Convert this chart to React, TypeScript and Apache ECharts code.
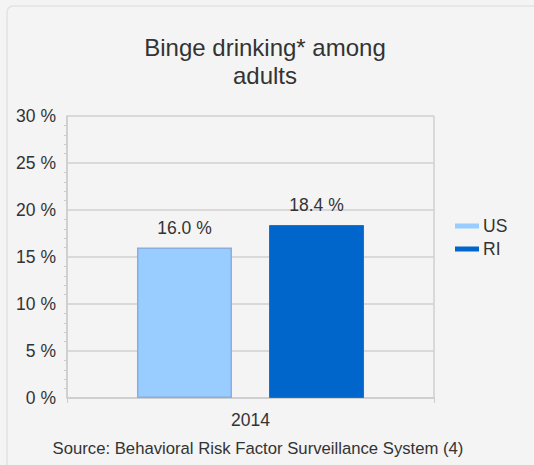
import React, { useEffect, useRef } from "react";
import * as echarts from "echarts";

const categories = ["2014"];
const seriesNames = ["US", "RI"];
const usValues = [16.0];
const riValues = [18.4];
const yTicks = [0, 5, 10, 15, 20, 25, 30];

export default function App() {
  const ref = useRef<HTMLDivElement>(null);
  useEffect(() => {
    const chart = echarts.init(ref.current!, null, { renderer: "svg" });
    const font = "Liberation Sans, Arial, sans-serif";
    const fs = 17.5;
    chart.setOption({
      animation: false,
      backgroundColor: "#f4f4f4",
      textStyle: { fontFamily: font },
      graphic: [
        {
          type: "rect",
          shape: { x: 7, y: 6, width: 600, height: 600, r: 6 },
          style: { fill: "#f4f4f4", stroke: "#e2e2e2", lineWidth: 1.5 },
          z: -10,
          silent: true,
        },
        {
          type: "text",
          x: 265,
          y: 33,
          style: {
            text: "Binge drinking* among\nadults",
            font: `24px ${font}`,
            fill: "#333333",
            textAlign: "center",
            textVerticalAlign: "top",
            lineHeight: 28,
          },
        },
        {
          type: "text",
          x: 258,
          y: 448,
          style: {
            text: "Source: Behavioral Risk Factor Surveillance System (4)",
            font: `16.7px ${font}`,
            fill: "#333333",
            textAlign: "center",
            textVerticalAlign: "middle",
          },
        },
      ],
      legend: {
        orient: "vertical",
        left: 450,
        top: 212,
        itemWidth: 24,
        itemHeight: 5,
        itemGap: 5,
        icon: "rect",
        itemStyle: { borderWidth: 0 },
        textStyle: { fontSize: fs, color: "#333", fontFamily: font, padding: [0, 0, 0, -1] },
        data: seriesNames,
      },
      grid: { left: 67, right: 100, top: 116, bottom: 67 },
      xAxis: {
        type: "category",
        data: categories,
        axisLine: { lineStyle: { color: "#cccccc", width: 1.5 } },
        axisTick: { show: true, length: 5, lineStyle: { color: "#cccccc" } },
        axisLabel: { fontSize: fs, color: "#333", margin: 13, fontFamily: font },
        splitLine: { show: true, lineStyle: { color: "#d0d0d0", width: 1.5 } },
      },
      yAxis: {
        type: "value",
        min: yTicks[0],
        max: yTicks[yTicks.length - 1],
        interval: 5,
        axisLine: { show: true, lineStyle: { color: "#cccccc", width: 1.5 } },
        axisTick: { show: false },
        minorTick: { show: true, splitNumber: 5, length: 3, lineStyle: { color: "#cccccc" } },
        axisLabel: {
          fontSize: fs,
          color: "#333",
          margin: 11,
          fontFamily: font,
          formatter: (v: number) => `${v} %`,
        },
        splitLine: { show: true, lineStyle: { color: "#d0d0d0", width: 1.5 } },
      },
      series: [
        {
          name: seriesNames[0],
          type: "bar",
          data: usValues,
          barWidth: 95,
          barGap: "39%",
          itemStyle: { color: "#99ccff", borderColor: "#88aee0", borderWidth: 1.5 },
          label: {
            show: true,
            position: "top",
            distance: 11,
            fontSize: fs,
            color: "#333",
            fontFamily: font,
            formatter: (p: any) => `${p.value.toFixed(1)} %`,
          },
        },
        {
          name: seriesNames[1],
          type: "bar",
          data: riValues,
          barWidth: 95,
          itemStyle: { color: "#0066cc", borderColor: "#1f6fc8", borderWidth: 1 },
          label: {
            show: true,
            position: "top",
            distance: 11,
            fontSize: fs,
            color: "#333",
            fontFamily: font,
            formatter: (p: any) => `${p.value.toFixed(1)} %`,
          },
        },
      ],
    });
    return () => chart.dispose();
  }, []);
  return (
    <div
      ref={ref}
      style={{ position: "fixed", left: 0, top: 0, width: 534, height: 465 }}
    />
  );
}
